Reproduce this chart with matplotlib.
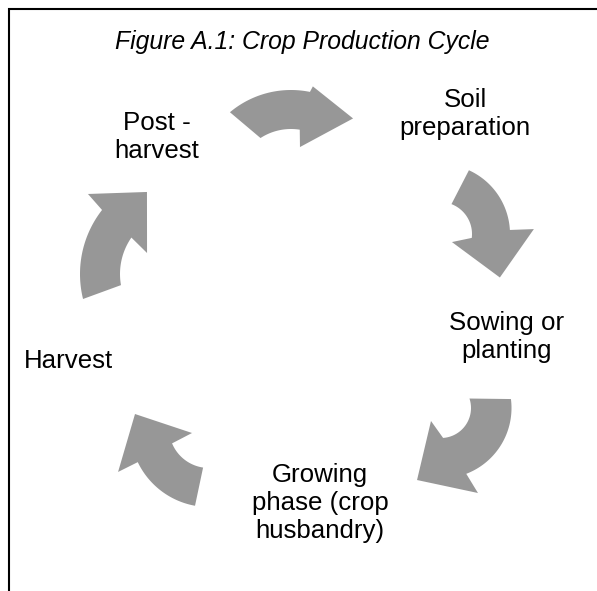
import numpy as np
import matplotlib
matplotlib.use("Agg")
import matplotlib.pyplot as plt
from matplotlib.patches import Polygon

# ---- content ----
title = "Figure A.1: Crop Production Cycle"
stages = ["Soil\npreparation", "Sowing or\nplanting", "Growing\nphase (crop\nhusbandry)",
          "Harvest", "Post -\nharvest"]

# ---- layout (pixel coords, y down) ----
W, H = 597, 591
label_xy = [(465, 114), (507, 337), (320, 503), (69, 361), (157, 137)]

# curved arrow geometry: centre, outer/inner radius, tail angles, head-junction angles,
# barbs (r, angle), tip (r, angle); angles in degrees, counter-clockwise
arrows = [
    dict(c=(291, 185), ro=95, ri=56, t_o=130, t_i=123, j_o=78.5, j_i=81,
         b_o=(101, 77.5), b_i=(39, 76.7), tip=(91, 47)),
    dict(c=(440, 234), ro=70, ri=32, t_o=65.6, t_i=69, j_o=3.3, j_i=-7,
         b_o=(94, 3), b_i=(14.4, -34), tip=(74, -36)),
    dict(c=(441, 408), ro=70.5, ri=30, t_o=7.3, t_i=18.4, j_o=-69, j_i=-86,
         b_o=(92.7, -66.5), b_i=(16.4, -127.6), tip=(75.9, -108.4)),
    dict(c=(209, 428), ro=79, ri=40, t_o=-100.2, t_i=-98.5, j_o=-154.4, j_i=-157.4,
         b_o=(101, -154.2), b_i=(17.7, -163.6), tip=(75.3, -190.7)),
    dict(c=(184, 274), ro=104, ri=64, t_o=193.9, t_i=190, j_o=142, j_i=145.3,
         b_o=(125, 140.2), b_i=(42.5, 150.4), tip=(90, 114.3)),
]

GRAY = "#979797"
FONT = ["Liberation Sans", "DejaVu Sans"]

fig = plt.figure(figsize=(W / 100, H / 100), dpi=100)
ax = fig.add_axes([0, 0, 1, 1])
ax.set_xlim(0, W)
ax.set_ylim(H, 0)
ax.set_aspect("equal")
ax.axis("off")


def pt(c, r, a):
    a = np.radians(a)
    return (c[0] + r * np.cos(a), c[1] - r * np.sin(a))


for s in arrows:
    c = s["c"]
    outer = [pt(c, s["ro"], a) for a in np.linspace(s["t_o"], s["j_o"], 60)]
    inner = [pt(c, s["ri"], a) for a in np.linspace(s["j_i"], s["t_i"], 60)]
    head = [pt(c, *s["b_o"]), pt(c, *s["tip"]), pt(c, *s["b_i"])]
    poly = Polygon(outer + head + inner, closed=True, facecolor=GRAY,
                   edgecolor="none", antialiased=True)
    ax.add_patch(poly)

# border (top and left edges)
ax.plot([8.5, 8.5, W], [H, 8.5, 8.5], color="black", lw=1.5, solid_capstyle="butt",
        solid_joinstyle="miter")

ax.text(302, 42, title, ha="center", va="center", fontsize=17.8,
        style="italic", family=FONT, color="black")

for lab, (x, y) in zip(stages, label_xy):
    ax.text(x, y, lab, ha="center", va="center", fontsize=18.6, family=FONT,
            color="black", linespacing=1.2, multialignment="center")

fig.savefig("out.png", dpi=100)
